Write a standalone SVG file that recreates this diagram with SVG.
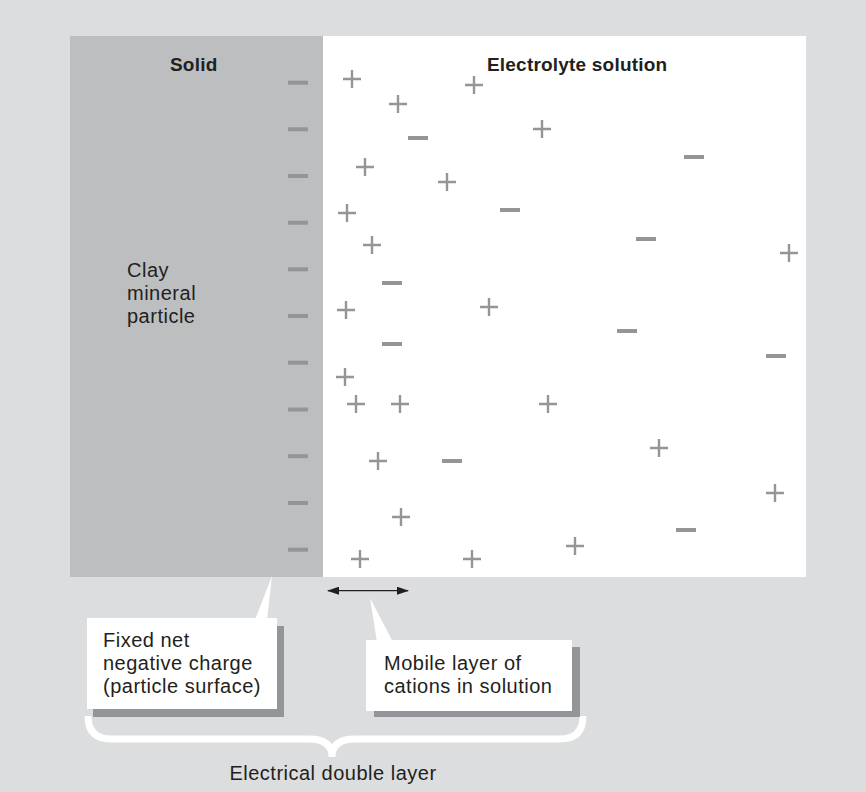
<svg xmlns="http://www.w3.org/2000/svg" width="866" height="792" viewBox="0 0 866 792">
<defs>
<style>
.t{font-family:"Liberation Sans",Arial,sans-serif;font-size:20px;letter-spacing:0.5px;fill:#231f20}
.b{font-family:"Liberation Sans",Arial,sans-serif;font-size:19px;font-weight:bold;letter-spacing:0.2px;fill:#231f20}
.m{stroke:#939598;stroke-width:4;fill:none}
.p{stroke:#939598;stroke-width:2.4;fill:none}
.box{fill:#ffffff}
.sh{fill:#939598}
</style>
<path id="plus" d="M-9 0H9M0 -9V9" class="p"/>
<path id="minus" d="M-10 0H10" class="m"/>
<marker id="ah" viewBox="0 0 12 8" refX="11" refY="4" markerWidth="12" markerHeight="8" markerUnits="userSpaceOnUse" orient="auto-start-reverse">
<path d="M0 0L12 4L0 8Z" fill="#231f20"/>
</marker>
</defs>
<rect width="866" height="792" fill="#dcddde"/>
<g id="solid">
<rect x="70" y="36" width="253" height="541" fill="#bcbec0"/>
<text class="b" x="170" y="71">Solid</text>
<text class="t" x="127" y="277">Clay</text>
<text class="t" x="127" y="300">mineral</text>
<text class="t" x="127" y="323">particle</text>
<g>
<use href="#minus" x="298" y="82.7"/>
<use href="#minus" x="298" y="129.3"/>
<use href="#minus" x="298" y="176"/>
<use href="#minus" x="298" y="222.7"/>
<use href="#minus" x="298" y="269.3"/>
<use href="#minus" x="298" y="316"/>
<use href="#minus" x="298" y="362.7"/>
<use href="#minus" x="298" y="409.5"/>
<use href="#minus" x="298" y="456.2"/>
<use href="#minus" x="298" y="503"/>
<use href="#minus" x="298" y="549.7"/>
</g>
</g>
<g id="solution">
<rect x="323" y="36" width="483" height="541" fill="#ffffff"/>
<text class="b" x="487" y="71">Electrolyte solution</text>
<g>
<use href="#plus" x="352" y="79"/>
<use href="#plus" x="474" y="85"/>
<use href="#plus" x="398" y="104"/>
<use href="#plus" x="542" y="129"/>
<use href="#plus" x="365" y="167"/>
<use href="#plus" x="447" y="182"/>
<use href="#plus" x="347" y="213"/>
<use href="#plus" x="372" y="245"/>
<use href="#plus" x="789" y="253"/>
<use href="#plus" x="346" y="310"/>
<use href="#plus" x="489" y="307"/>
<use href="#plus" x="345" y="377"/>
<use href="#plus" x="356" y="404"/>
<use href="#plus" x="400" y="404"/>
<use href="#plus" x="548" y="404"/>
<use href="#plus" x="659" y="448"/>
<use href="#plus" x="378" y="461"/>
<use href="#plus" x="775" y="493"/>
<use href="#plus" x="401" y="517"/>
<use href="#plus" x="575" y="546"/>
<use href="#plus" x="360" y="559"/>
<use href="#plus" x="472" y="559"/>
<use href="#minus" x="418" y="138"/>
<use href="#minus" x="694" y="157"/>
<use href="#minus" x="510" y="210"/>
<use href="#minus" x="646" y="239"/>
<use href="#minus" x="392" y="283"/>
<use href="#minus" x="627" y="331"/>
<use href="#minus" x="392" y="344"/>
<use href="#minus" x="776" y="356"/>
<use href="#minus" x="452" y="461"/>
<use href="#minus" x="686" y="530"/>
</g>
</g>
<g id="connectors">
<line x1="328" y1="590.7" x2="408" y2="590.7" stroke="#231f20" stroke-width="1.3" marker-start="url(#ah)" marker-end="url(#ah)"/>
<polygon points="272,576 255,620 267,620" fill="#ffffff"/>
<polygon points="370,598 377,642 393,642" fill="#ffffff"/>
<path d="M88 716Q88 739 111 739L309 739Q332 739 332 757Q332 739 355 739L560 739Q583 739 583 716" fill="none" stroke="#ffffff" stroke-width="7"/>
</g>
<g id="callout-fixed">
<rect class="sh" x="93" y="626" width="191" height="91"/>
<rect class="box" x="87" y="618" width="190" height="91"/>
<text class="t" x="103" y="647">Fixed net</text>
<text class="t" x="103" y="670">negative charge</text>
<text class="t" x="103" y="693">(particle surface)</text>
</g>
<g id="callout-mobile">
<rect class="sh" x="374" y="647" width="206" height="70"/>
<rect class="box" x="366" y="640" width="206" height="71"/>
<text class="t" x="384" y="670">Mobile layer of</text>
<text class="t" x="384" y="693">cations in solution</text>
</g>
<g id="label-double-layer">
<text class="t" x="333" y="780" text-anchor="middle">Electrical double layer</text>
</g>
</svg>
